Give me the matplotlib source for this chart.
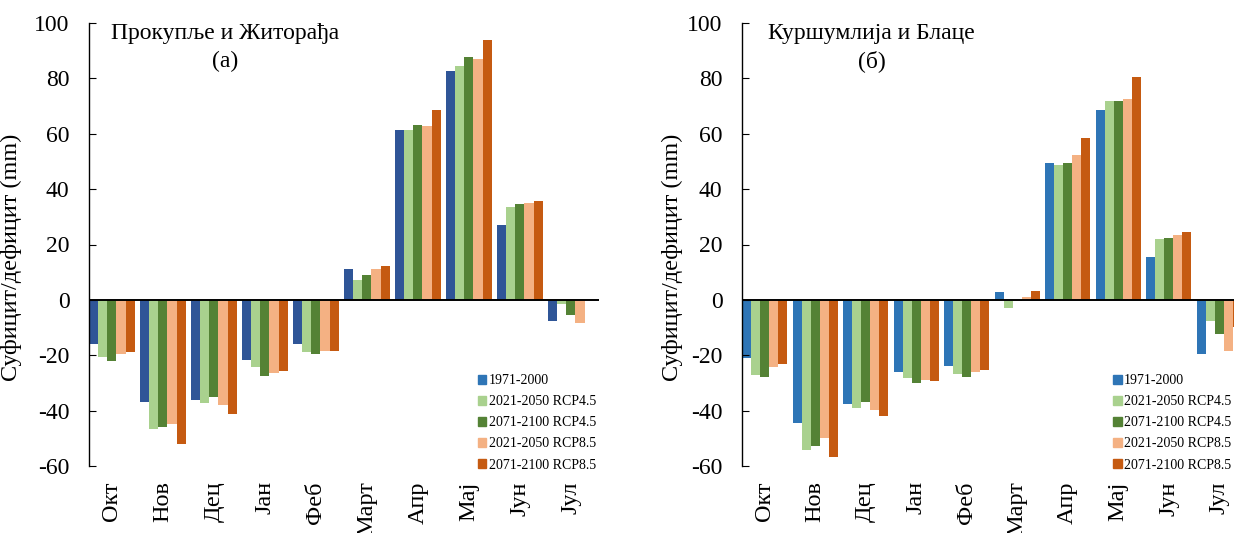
import numpy as np
import matplotlib
matplotlib.use("Agg")
import matplotlib.pyplot as plt
from matplotlib.patches import Patch

plt.rcParams['font.family'] = ['Liberation Serif', 'DejaVu Serif']
plt.rcParams['axes.unicode_minus'] = False

months = ["Окт", "Нов", "Дец", "Јан", "Феб", "Март", "Апр", "Мај", "Јун", "Јул"]
series = ["1971-2000", "2021-2050 RCP4.5", "2071-2100 RCP4.5",
          "2021-2050 RCP8.5", "2071-2100 RCP8.5"]

# (а) Прокупље и Житорађа
a_1971 = [-16.1, -36.9, -36.0, -21.6, -16.1, 11.0, 61.5, 82.6, 27.0, -7.8]
a_45_2050 = [-20.8, -46.8, -37.2, -24.3, -18.7, 7.0, 61.5, 84.4, 33.7, -1.6]
a_45_2100 = [-21.9, -46.0, -35.2, -27.6, -19.6, 8.9, 63.2, 87.9, 34.7, -5.5]
a_85_2050 = [-19.4, -44.7, -37.8, -26.4, -18.6, 11.1, 62.9, 87.1, 35.0, -8.5]
a_85_2100 = [-18.9, -52.1, -41.2, -25.7, -18.3, 12.1, 68.7, 93.7, 35.8, 0.0]

# (б) Куршумлија и Блаце
b_1971 = [-21.0, -44.5, -37.7, -26.1, -23.9, 3.0, 49.6, 68.7, 15.6, -19.6]
b_45_2050 = [-27.3, -54.1, -39.0, -28.1, -26.8, -3.1, 48.6, 71.7, 21.9, -7.6]
b_45_2100 = [-28.0, -52.9, -37.0, -29.9, -27.8, -0.3, 49.6, 72.0, 22.4, -12.3]
b_85_2050 = [-24.1, -50.0, -39.6, -28.8, -26.1, 1.2, 52.3, 72.5, 23.6, -18.5]
b_85_2100 = [-23.1, -56.9, -41.8, -29.4, -25.3, 3.3, 58.3, 80.5, 24.6, -9.9]

colors = ["#2E75B6", "#A9D18E", "#548235", "#F4B183", "#C55A11"]
left_colors = ["#2F5597", "#A9D18E", "#548235", "#F4B183", "#C55A11"]

fig = plt.figure(figsize=(12.34, 5.33), dpi=100)
ax1 = fig.add_axes([89 / 1234, 1 - 466 / 533, 510 / 1234, 443 / 533])
ax2 = fig.add_axes([742 / 1234, 1 - 466 / 533, 505 / 1234, 443 / 533])

x = np.arange(len(months))
w = 0.178


def draw(ax, data, cols, title, sub, tx, lx, ylx):
    for i, vals in enumerate(data):
        ax.bar(x - 2 * w + i * w, vals, w, color=cols[i], linewidth=0)
    ax.axhline(0, color="black", lw=1.4)
    ax.set_xlim(-0.45, 9.55)
    ax.set_ylim(-60, 100)
    ax.set_yticks(range(-60, 101, 20))
    ax.set_xticks(x)
    ax.set_xticklabels(months, rotation=90, fontsize=17.5, va="top")
    ax.tick_params(axis="x", length=0, pad=11)
    ax.tick_params(axis="y", direction="in", length=5, labelsize=17, pad=14)
    for s in ["top", "right", "bottom"]:
        ax.spines[s].set_visible(False)
    ax.spines["left"].set_linewidth(1.0)
    ax.set_ylabel("Суфицит/дефицит (mm)", fontsize=17.5)
    ax.yaxis.set_label_coords(ylx, 0.47)
    ax.text(tx, 0.977, title, transform=ax.transAxes, ha="center", va="center", fontsize=17)
    ax.text(tx, 0.914, sub, transform=ax.transAxes, ha="center", va="center", fontsize=17)
    handles = [Patch(color=c) for c in colors]
    ax.legend(handles, series, loc="upper left", bbox_to_anchor=(lx, 0.207),
              frameon=False, fontsize=10, handlelength=0.6, handleheight=0.6,
              handletextpad=0.15, labelspacing=0.58, borderpad=0, borderaxespad=0)


draw(ax1, [a_1971, a_45_2050, a_45_2100, a_85_2050, a_85_2100], left_colors,
     "Прокупље и Житорађа", "(а)", 0.267, 0.763, -0.131)
draw(ax2, [b_1971, b_45_2050, b_45_2100, b_85_2050, b_85_2100], colors,
     "Куршумлија и Блаце", "(б)", 0.257, 0.735, -0.116)

fig.savefig("out.png", dpi=100)
